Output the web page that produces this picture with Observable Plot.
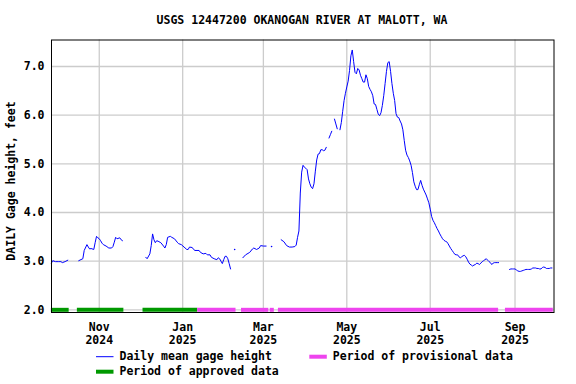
<!DOCTYPE html>
<html>
<head>
<meta charset="utf-8">
<script src="https://cdn.jsdelivr.net/npm/d3@7"></script>
<script src="https://cdn.jsdelivr.net/npm/@observablehq/plot@0.6"></script>
<style>
html, body { margin: 0; padding: 0; background: #fff; }
#chart svg { display: block; }
</style>
</head>
<body>
<div id="chart"></div>
<script>
const title = "USGS 12447200 OKANOGAN RIVER AT MALOTT, WA";
const yLabel = "DAILY Gage height, feet";

// Daily mean gage height (null = no data / gap)
const dates = [
  "2024-09-27","2024-09-28","2024-09-30","2024-10-02","2024-10-04","2024-10-05","2024-10-07","2024-10-09","2024-10-13",
  "2024-10-17","2024-10-20","2024-10-21","2024-10-23","2024-10-24","2024-10-25","2024-10-26","2024-10-28","2024-10-29","2024-10-30","2024-10-31",
  "2024-11-01","2024-11-02","2024-11-03","2024-11-04","2024-11-06","2024-11-08","2024-11-10","2024-11-11","2024-11-12","2024-11-13","2024-11-14","2024-11-16","2024-11-17","2024-11-18","2024-11-25",
  "2024-12-05","2024-12-06","2024-12-08","2024-12-09","2024-12-10","2024-12-11","2024-12-12","2024-12-13","2024-12-14","2024-12-16","2024-12-18","2024-12-19","2024-12-20","2024-12-21","2024-12-23","2024-12-24","2024-12-26","2024-12-28","2024-12-29","2024-12-31",
  "2025-01-02","2025-01-04","2025-01-05","2025-01-06","2025-01-08","2025-01-09","2025-01-10","2025-01-13","2025-01-14","2025-01-16","2025-01-18","2025-01-19","2025-01-21","2025-01-22","2025-01-24","2025-01-26","2025-01-27","2025-01-28","2025-01-29","2025-01-30","2025-01-31",
  "2025-02-01","2025-02-02","2025-02-03","2025-02-04","2025-02-05","2025-02-06","2025-02-08","2025-02-10",
  "2025-02-14","2025-02-16","2025-02-19","2025-02-21","2025-02-22","2025-02-24","2025-02-26","2025-02-27","2025-03-01","2025-03-03","2025-03-05","2025-03-07","2025-03-10",
  "2025-03-14","2025-03-16","2025-03-18","2025-03-20","2025-03-22","2025-03-24","2025-03-25","2025-03-26","2025-03-27","2025-03-28","2025-03-29","2025-03-30","2025-03-31",
  "2025-04-01","2025-04-02","2025-04-03","2025-04-04","2025-04-05","2025-04-06","2025-04-07","2025-04-08","2025-04-09","2025-04-10","2025-04-11","2025-04-12","2025-04-13","2025-04-14","2025-04-15","2025-04-16","2025-04-17",
  "2025-04-18","2025-04-19","2025-04-20","2025-04-21","2025-04-22","2025-04-23","2025-04-24","2025-04-25",
  "2025-04-26","2025-04-27","2025-04-28","2025-04-29","2025-04-30",
  "2025-05-01","2025-05-02","2025-05-03","2025-05-04","2025-05-05","2025-05-06","2025-05-07","2025-05-08","2025-05-09","2025-05-10","2025-05-11","2025-05-12","2025-05-13","2025-05-14","2025-05-15","2025-05-16","2025-05-17","2025-05-18","2025-05-19","2025-05-20","2025-05-21","2025-05-22","2025-05-23","2025-05-24","2025-05-25","2025-05-26","2025-05-27","2025-05-28","2025-05-29","2025-05-30","2025-05-31",
  "2025-06-01","2025-06-02","2025-06-03","2025-06-04","2025-06-05","2025-06-06","2025-06-07","2025-06-08","2025-06-09","2025-06-10","2025-06-11","2025-06-12","2025-06-13","2025-06-14","2025-06-15","2025-06-16","2025-06-17","2025-06-18","2025-06-19","2025-06-20","2025-06-21","2025-06-22","2025-06-23","2025-06-24","2025-06-25","2025-06-26","2025-06-27","2025-06-28","2025-06-29","2025-06-30",
  "2025-07-01","2025-07-02","2025-07-03","2025-07-04","2025-07-05","2025-07-06","2025-07-07","2025-07-08","2025-07-09","2025-07-10","2025-07-11","2025-07-12","2025-07-13","2025-07-14","2025-07-15","2025-07-16","2025-07-17","2025-07-18","2025-07-19","2025-07-20","2025-07-21","2025-07-22","2025-07-23","2025-07-24","2025-07-25","2025-07-26","2025-07-27","2025-07-28","2025-07-29","2025-07-30","2025-07-31",
  "2025-08-01","2025-08-02","2025-08-03","2025-08-04","2025-08-05","2025-08-06","2025-08-07","2025-08-08","2025-08-09","2025-08-10","2025-08-11","2025-08-12","2025-08-13","2025-08-14","2025-08-15","2025-08-16","2025-08-17","2025-08-18","2025-08-19","2025-08-20","2025-08-24",
  "2025-08-28","2025-08-29","2025-08-30","2025-08-31","2025-09-01","2025-09-02","2025-09-03","2025-09-04","2025-09-05","2025-09-06","2025-09-07","2025-09-08","2025-09-09","2025-09-10","2025-09-11","2025-09-12","2025-09-13","2025-09-14","2025-09-15","2025-09-16","2025-09-17","2025-09-18","2025-09-19","2025-09-20","2025-09-21","2025-09-22","2025-09-23","2025-09-24","2025-09-25","2025-09-26","2025-09-27","2025-09-28"
];
const gageHeight = [
  2.96,3.01,2.99,2.99,2.99,2.97,2.99,3.02,null,
  3.01,3.05,3.22,3.34,3.29,3.25,3.26,3.24,3.38,3.51,3.48,
  3.46,3.42,3.37,3.34,3.31,3.27,3.27,3.30,3.39,3.49,3.46,3.48,3.44,3.42,null,
  3.08,3.05,3.15,3.32,3.56,3.44,3.38,3.42,3.41,3.38,3.31,3.27,3.34,3.49,3.51,3.49,3.46,3.39,3.36,3.34,
  3.29,3.24,3.24,3.29,3.28,3.24,3.22,3.22,3.18,3.15,3.16,3.13,3.13,3.08,3.05,3.03,3.07,3.05,3.00,2.95,3.03,
  3.10,3.10,3.05,2.95,2.84,null,3.24,null,
  3.07,3.13,3.18,3.25,3.27,3.24,3.27,3.32,3.31,3.31,null,3.30,null,
  3.44,3.40,3.32,3.29,3.29,3.30,3.33,3.49,3.62,4.40,4.83,4.97,4.93,
  4.91,4.88,4.69,4.59,4.52,4.49,4.59,4.85,5.08,5.20,5.21,5.29,5.29,5.27,5.28,5.34,null,
  5.53,5.60,5.67,null,5.92,5.82,5.72,null,
  5.70,5.85,6.08,6.30,6.45,
  6.58,6.70,6.92,7.22,7.34,7.10,6.88,6.85,6.96,6.93,6.82,6.75,6.68,6.68,6.83,6.75,6.59,6.53,6.48,6.40,6.23,6.22,6.12,6.02,5.99,6.05,6.20,6.40,6.65,6.90,7.08,
  7.10,6.90,6.65,6.45,6.30,6.03,5.96,5.95,5.88,5.82,5.70,5.48,5.28,5.18,5.13,5.06,4.97,4.82,4.63,4.54,4.47,4.47,4.57,4.66,4.56,4.48,4.42,4.36,4.28,4.20,
  4.07,3.92,3.84,3.79,3.73,3.67,3.62,3.56,3.51,3.46,3.43,3.41,3.40,3.36,3.31,3.26,3.22,3.18,3.14,3.13,3.13,3.09,3.07,3.09,3.11,3.12,3.09,3.04,2.98,2.94,2.92,
  2.90,2.92,2.93,2.96,2.95,2.93,2.96,2.99,3.01,3.03,3.05,3.02,2.99,2.97,2.93,2.96,2.97,2.97,2.97,2.97,null,
  2.83,2.84,2.84,2.84,2.84,2.82,2.80,2.79,2.79,2.80,2.81,2.82,2.83,2.83,2.83,2.83,2.84,2.86,2.86,2.86,2.85,2.85,2.84,2.84,2.87,2.88,2.87,2.85,2.85,2.85,2.86,2.86
];

// Data-approval periods (drawn along the 2.0 ft line)
const approvedStart = ["2024-09-27","2024-10-16","2024-12-03"];
const approvedEnd   = ["2024-10-10","2024-11-19","2025-01-12"];
const provisionalStart = ["2025-01-12","2025-02-13","2025-03-06","2025-03-12","2025-08-25"];
const provisionalEnd   = ["2025-02-09","2025-03-05","2025-03-09","2025-08-20","2025-09-29"];

// Axis ticks
const xTickDates = ["2024-11-01","2025-01-01","2025-03-01","2025-05-01","2025-07-01","2025-09-01"];
const xTickMonths = ["Nov","Jan","Mar","May","Jul","Sep"];
const xTickYears = ["2024","2025","2025","2025","2025","2025"];
const yTicks = [2, 3, 4, 5, 6, 7];

const xDomain = ["2024-09-27T02:00", "2025-09-29T12:00"];
const yDomain = [1.945, 7.545];

const parse = s => new Date(s + (s.length === 10 ? "T00:00" : ""));
const series = dates.map((d, i) => ({date: parse(d), h: gageHeight[i]}));
const isolated = series.filter((d, i) => d.h != null &&
  (i === 0 || series[i - 1].h == null) && (i === series.length - 1 || series[i + 1].h == null));
const approved = approvedStart.map((s, i) => ({x1: parse(s), x2: parse(approvedEnd[i])}));
const provisional = provisionalStart.map((s, i) => ({x1: parse(s), x2: parse(provisionalEnd[i])}));
const xticks = xTickDates.map((d, i) => ({date: parse(d), label: xTickMonths[i] + "\n" + xTickYears[i]}));

const FONT = "DejaVu Sans Mono";
const GREEN = "#009900", PINK = "#ee44ee", BLUE = "#0000ff", GRID = "#cccccc";

const plot = Plot.plot({
  width: 576,
  height: 384,
  marginLeft: 51,
  marginRight: 22.5,
  marginTop: 39.5,
  marginBottom: 72,
  style: {fontFamily: FONT, fontWeight: "bold", fontSize: "11.5px", color: "black", background: "white"},
  x: {type: "time", domain: xDomain.map(parse), axis: null},
  y: {domain: yDomain, axis: null},
  marks: [
    Plot.gridX(xticks.map(d => d.date), {stroke: GRID, strokeOpacity: 1, strokeWidth: 1.3}),
    Plot.gridY(yTicks, {stroke: GRID, strokeOpacity: 1, strokeWidth: 1.3}),
    Plot.ruleY(approved, {y: 2, x1: "x1", x2: "x2", stroke: GREEN, strokeWidth: 4}),
    Plot.ruleY(provisional, {y: 2, x1: "x1", x2: "x2", stroke: PINK, strokeWidth: 4}),
    Plot.line(series, {x: "date", y: "h", stroke: BLUE, strokeWidth: 1}),
    Plot.dot(isolated, {x: "date", y: "h", r: 0.8, fill: BLUE, stroke: null}),
    Plot.axisY(yTicks, {tickSize: 0, tickPadding: 7, tickFormat: d3.format(".1f"), label: null}),
    Plot.text(xticks, {x: "date", text: "label", frameAnchor: "bottom", lineAnchor: "middle", dy: 20.5, lineHeight: 1.16, fill: "black"}),
    Plot.frame({stroke: "black", strokeWidth: 1})
  ]
});

const svg = d3.select(plot);
const addText = (sel) => sel
  .style("font-family", FONT).style("font-weight", "bold").style("font-size", "11.5px").attr("fill", "black");
addText(svg.append("text")
  .attr("x", 302).attr("y", 20.5)
  .attr("text-anchor", "middle").attr("dominant-baseline", "middle")
  .text(title));
addText(svg.append("text")
  .attr("transform", "translate(11,181) rotate(-90)")
  .attr("text-anchor", "middle").attr("dominant-baseline", "middle")
  .text(yLabel));

const legendItems = [
  {x: 96, y: 356.7, color: BLUE, w: 1, label: "Daily mean gage height"},
  {x: 96, y: 371.7, color: GREEN, w: 4, label: "Period of approved data"},
  {x: 309.3, y: 356.7, color: PINK, w: 4, label: "Period of provisional data"}
];
for (const it of legendItems) {
  svg.append("line").attr("x1", it.x).attr("x2", it.x + 17.5)
    .attr("y1", it.y).attr("y2", it.y).attr("stroke", it.color).attr("stroke-width", it.w);
  addText(svg.append("text").attr("x", it.x + 23.5).attr("y", it.y)
    .attr("text-anchor", "start")
    .attr("dominant-baseline", "middle")
    .text(it.label));
}

document.getElementById("chart").appendChild(plot);
</script>
</body>
</html>
